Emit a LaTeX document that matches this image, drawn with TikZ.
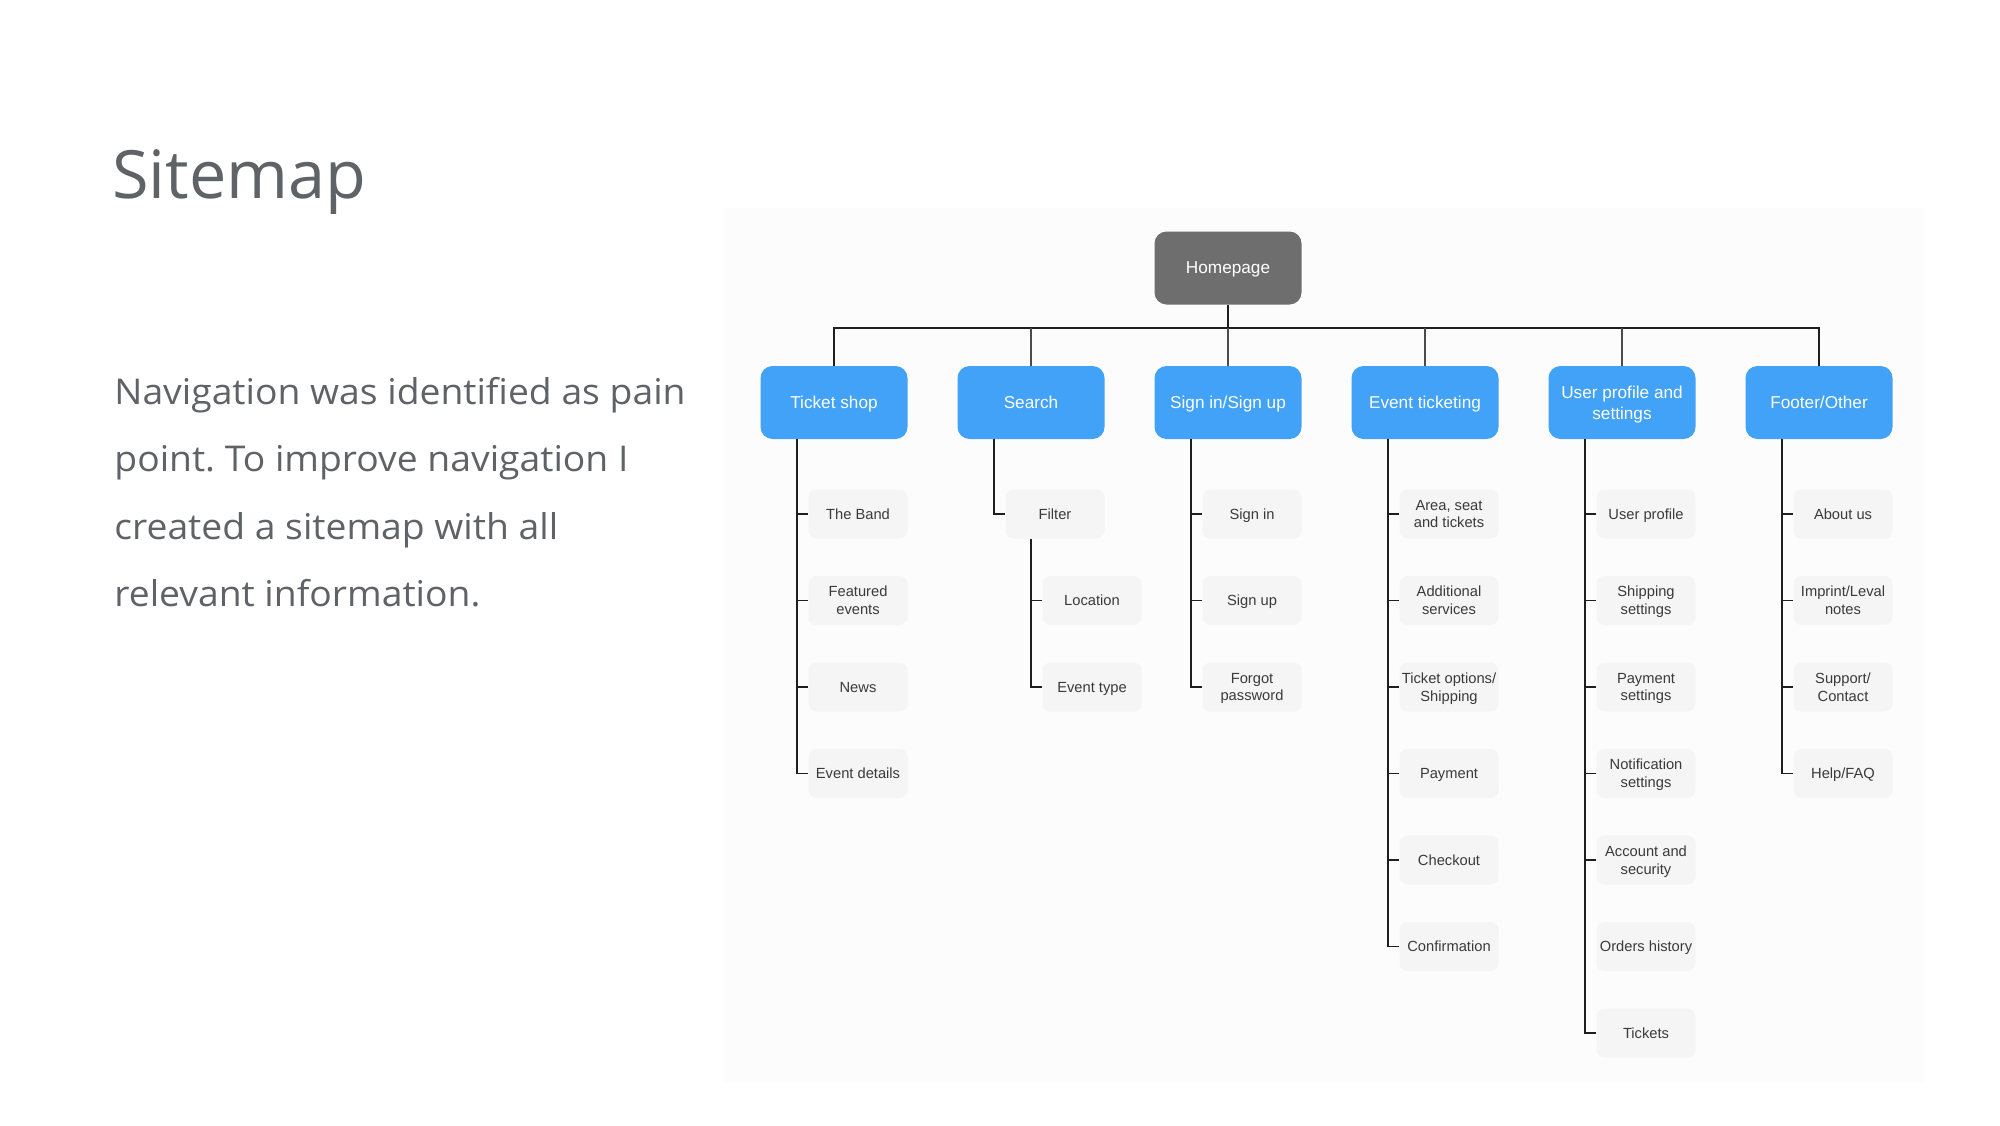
\documentclass[tikz,border=0pt]{standalone}
\usepackage{fontspec}
\setmainfont{Open Sans}
\newfontfamily\bodyfont[FakeStretch=1.05]{Open Sans}
\newfontfamily\diafont{Liberation Sans}
\frenchspacing
\definecolor{txtgray}{HTML}{5F6368}
\definecolor{blueb}{HTML}{42A2F8}
\definecolor{homeg}{HTML}{6E6E6E}
\definecolor{childf}{HTML}{F5F5F5}
\definecolor{childt}{HTML}{3A3A3A}
\definecolor{panelf}{HTML}{FCFCFC}
\definecolor{linec}{HTML}{1E1E1E}
\tikzset{
  lvlbox/.style={fill=blueb, text=white, rounded corners=6pt, minimum width=73.5pt, minimum height=36.5pt,
    font=\diafont\fontsize{8.6}{10.6}\selectfont, align=center, inner sep=2pt, text depth=0pt},
  homebox/.style={lvlbox, fill=homeg},
  childbox/.style={fill=childf, text=childt, rounded corners=4pt, minimum width=49.5pt, minimum height=24.5pt,
    font=\diafont\fontsize{7.35}{8.9}\selectfont, align=center, inner sep=1pt, text depth=0pt},
  conn/.style={draw=linec, line width=0.9pt},
  stub/.style={draw=linec!80, line width=0.8pt},
  bodytxt/.style={anchor=base west, text=txtgray, inner sep=0pt, font=\bodyfont\fontsize{17.75}{30}\selectfont},
}
\begin{document}
\begin{tikzpicture}[x=0.5pt,y=-0.5pt]
\useasboundingbox (0,0) rectangle (2000,1125);
\fill[white] (0,0) rectangle (2000,1125);
% panel
\fill[panelf] (724,208) rectangle (1924,1082);

% left text
\node[anchor=base west, text=txtgray, inner sep=0pt, font=\fontsize{33.3}{36}\selectfont] (title) at (112,198.5) {Sitemap};
\node[bodytxt] (l1) at (114,404) {Navigation was identified as pain};
\node[bodytxt] (l2) at (114,471.5) {point. To improve navigation I};
\node[bodytxt] (l3) at (114,539) {created a sitemap with all};
\node[bodytxt] (l4) at (114,606.5) {relevant information.};

% root and level 1
\node[homebox] (home) at (1228,268) {Homepage};
\node[lvlbox] (ts) at (834,402.5) {Ticket shop};
\node[lvlbox] (se) at (1031,402.5) {Search};
\node[lvlbox] (si) at (1228,402.5) {Sign in/Sign up};
\node[lvlbox] (et) at (1425,402.5) {Event ticketing};
\node[lvlbox] (up) at (1622,402.5) {User profile and\\settings};
\node[lvlbox] (fo) at (1819,402.5) {Footer/Other};

% children: Ticket shop
\node[childbox] (band) at (858,514) {The Band};
\node[childbox] (featured) at (858,600.5) {Featured\\events};
\node[childbox] (news) at (858,687) {News};
\node[childbox] (details) at (858,773.5) {Event details};
% Search
\node[childbox] (filter) at (1055,514) {Filter};
\node[childbox] (location) at (1092,600.5) {Location};
\node[childbox] (etype) at (1092,687) {Event type};
% Sign in
\node[childbox] (signin) at (1252,514) {Sign in};
\node[childbox] (signup) at (1252,600.5) {Sign up};
\node[childbox] (forgot) at (1252,687) {Forgot\\password};
% Event ticketing
\node[childbox] (area) at (1449,514) {Area, seat\\and tickets};
\node[childbox] (addl) at (1449,600.5) {Additional\\services};
\node[childbox] (topt) at (1449,687) {Ticket options/\\Shipping};
\node[childbox] (pay) at (1449,773.5) {Payment};
\node[childbox] (checkout) at (1449,860) {Checkout};
\node[childbox] (confirm) at (1449,946.5) {Confirmation};
% User profile
\node[childbox] (uprof) at (1646,514) {User profile};
\node[childbox] (shipset) at (1646,600.5) {Shipping\\settings};
\node[childbox] (payset) at (1646,687) {Payment\\settings};
\node[childbox] (notif) at (1646,773.5) {Notification\\settings};
\node[childbox] (account) at (1646,860) {Account and\\security};
\node[childbox] (orders) at (1646,946.5) {Orders history};
\node[childbox] (tickets) at (1646,1033) {Tickets};
% Footer
\node[childbox] (about) at (1843,514) {About us};
\node[childbox] (imprint) at (1843,600.5) {Imprint/Leval\\notes};
\node[childbox] (support) at (1843,687) {Support/\\Contact};
\node[childbox] (help) at (1843,773.5) {Help/FAQ};

% top connectors
\coordinate (bar) at (1228,328);
\draw[conn] (home.south) -- (bar);
\draw[conn] (ts.north) -- (ts.north |- bar) -- (fo.north |- bar) -- (fo.north);
\foreach \n in {se,si,et,up} \draw[stub] (\n.north) -- (\n.north |- bar);

% trunks
\coordinate (tsT) at ([xshift=-18.5pt]ts.south);
\draw[conn] (tsT) |- (details.west);
\foreach \n in {band,featured,news} \draw[conn] (\n.west) -- (\n.west -| tsT);

\coordinate (seT) at ([xshift=-18.5pt]se.south);
\draw[conn] (seT) |- (filter.west);
\coordinate (fT) at ([xshift=-12pt]filter.south);
\draw[conn] (fT) |- (etype.west);
\draw[conn] (location.west) -- (location.west -| fT);

\coordinate (siT) at ([xshift=-18.5pt]si.south);
\draw[conn] (siT) |- (forgot.west);
\foreach \n in {signin,signup} \draw[conn] (\n.west) -- (\n.west -| siT);

\coordinate (etT) at ([xshift=-18.5pt]et.south);
\draw[conn] (etT) |- (confirm.west);
\foreach \n in {area,addl,topt,pay,checkout} \draw[conn] (\n.west) -- (\n.west -| etT);

\coordinate (upT) at ([xshift=-18.5pt]up.south);
\draw[conn] (upT) |- (tickets.west);
\foreach \n in {uprof,shipset,payset,notif,account} \draw[conn] (\n.west) -- (\n.west -| upT);

\coordinate (foT) at ([xshift=-18.5pt]fo.south);
\draw[conn] (foT) |- (help.west);
\foreach \n in {about,imprint,support} \draw[conn] (\n.west) -- (\n.west -| foT);
\end{tikzpicture}
\end{document}
